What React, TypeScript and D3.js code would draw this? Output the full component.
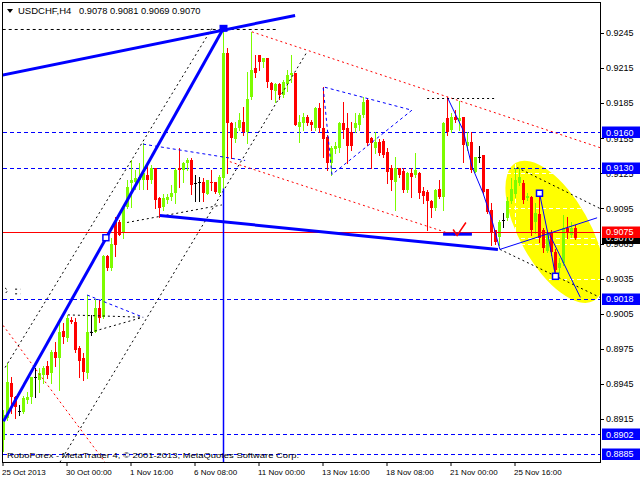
import React from "react";
import * as d3 from "d3";

const OPEN = [0.8897,0.8916,0.8946,0.8934,0.8922,0.8921,0.8931,0.8934,0.8951,0.8948,
0.8953,0.8960,0.8954,0.8972,0.8967,0.8990,0.8984,0.9000,0.8998,0.8976,
0.8967,0.8954,0.8989,0.8989,0.9010,0.9002,0.9054,0.9044,0.9083,0.9083,
0.9074,0.9096,0.9117,0.9118,0.9119,0.9119,0.9124,0.9119,0.9130,0.9104,
0.9096,0.9102,0.9105,0.9108,0.9130,0.9128,0.9134,0.9136,0.9117,0.9118,
0.9118,0.9107,0.9118,0.9118,0.9108,0.9121,0.9228,0.9168,0.9154,0.9164,
0.9169,0.9160,0.9190,0.9215,0.9226,0.9220,0.9224,0.9202,0.9195,0.9201,
0.9192,0.9201,0.9209,0.9211,0.9165,0.9168,0.9173,0.9169,0.9164,0.9181,
0.9164,0.9156,0.9134,0.9146,0.9147,0.9168,0.9164,0.9160,0.9164,0.9166,
0.9175,0.9188,0.9155,0.9147,0.9152,0.9153,0.9143,0.9130,0.9118,0.9130,
0.9127,0.9111,0.9125,0.9124,0.9125,0.9110,0.9109,0.9101,0.9095,0.9112,
0.9105,0.9172,0.9162,0.9173,0.9170,0.9173,0.9148,0.9152,0.9126,0.9139,
0.9141,0.9112,0.9094,0.9077,0.9071,0.9085,0.9087,0.9101,0.9107,0.9117,
0.9117,0.9104,0.9105,0.9083,0.9090,0.9077,0.9059,0.9074,0.9058,0.9044,
0.9048,0.9078,0.9072,0.9078];

const HIGH = [0.8923,0.8963,0.8951,0.8935,0.8927,0.8935,0.8938,0.8951,0.8959,0.8959,
0.8960,0.8965,0.8974,0.8981,0.9000,0.8997,0.9004,0.9002,0.9001,0.8977,
0.8971,0.9021,0.9004,0.9018,0.9017,0.9055,0.9055,0.9070,0.9088,0.9085,
0.9096,0.9119,0.9136,0.9128,0.9134,0.9151,0.9132,0.9132,0.9130,0.9105,
0.9107,0.9107,0.9115,0.9130,0.9147,0.9135,0.9138,0.9138,0.9124,0.9122,
0.9121,0.9119,0.9128,0.9118,0.9124,0.9249,0.9232,0.9169,0.9169,0.9177,
0.9182,0.9212,0.9246,0.9226,0.9226,0.9224,0.9224,0.9203,0.9202,0.9202,
0.9205,0.9213,0.9226,0.9211,0.9175,0.9177,0.9175,0.9171,0.9182,0.9185,
0.9199,0.9158,0.9148,0.9152,0.9169,0.9186,0.9177,0.9169,0.9177,0.9177,
0.9190,0.9189,0.9156,0.9160,0.9154,0.9154,0.9147,0.9132,0.9139,0.9130,
0.9130,0.9126,0.9130,0.9142,0.9126,0.9113,0.9111,0.9102,0.9112,0.9119,
0.9169,0.9190,0.9177,0.9179,0.9187,0.9173,0.9160,0.9160,0.9139,0.9148,
0.9141,0.9112,0.9100,0.9077,0.9085,0.9091,0.9105,0.9121,0.9130,0.9130,
0.9119,0.9108,0.9106,0.9100,0.9108,0.9078,0.9077,0.9077,0.9060,0.9053,
0.9089,0.9088,0.9083,0.9081];

const LOW = [0.8888,0.8914,0.8920,0.8916,0.8918,0.8920,0.8929,0.8929,0.8934,0.8938,
0.8946,0.8950,0.8946,0.8960,0.8940,0.8980,0.8982,0.8997,0.8972,0.8951,
0.8948,0.8950,0.8987,0.8989,0.8998,0.9001,0.9042,0.9042,0.9054,0.9072,
0.9070,0.9095,0.9096,0.9112,0.9112,0.9112,0.9112,0.9117,0.9095,0.9088,
0.9094,0.9100,0.9102,0.9100,0.9113,0.9118,0.9128,0.9107,0.9101,0.9101,
0.9101,0.9107,0.9111,0.9108,0.9107,0.9112,0.9125,0.9138,0.9152,0.9162,
0.9158,0.9151,0.9189,0.9207,0.9213,0.9216,0.9199,0.9189,0.9186,0.9189,
0.9190,0.9195,0.9203,0.9166,0.9152,0.9162,0.9166,0.9162,0.9162,0.9160,
0.9139,0.9128,0.9124,0.9142,0.9143,0.9155,0.9134,0.9145,0.9160,0.9162,
0.9173,0.9149,0.9130,0.9142,0.9141,0.9139,0.9117,0.9111,0.9094,0.9122,
0.9109,0.9109,0.9105,0.9122,0.9104,0.9100,0.9077,0.9088,0.9094,0.9104,
0.9094,0.9158,0.9160,0.9169,0.9162,0.9135,0.9145,0.9126,0.9126,0.9135,
0.9108,0.9091,0.9064,0.9065,0.9064,0.9079,0.9085,0.9100,0.9105,0.9115,
0.9100,0.9102,0.9072,0.9074,0.9066,0.9058,0.9058,0.9055,0.9038,0.9041,
0.9047,0.9070,0.9071,0.9069];

const CLOSE = [0.8918,0.8947,0.8934,0.8925,0.8922,0.8933,0.8934,0.8951,0.8951,0.8954,
0.8959,0.8953,0.8972,0.8967,0.8989,0.8985,0.9001,0.8998,0.8974,0.8965,
0.8955,0.8989,0.8989,0.9010,0.9001,0.9054,0.9044,0.9065,0.9064,0.9072,
0.9095,0.9113,0.9119,0.9121,0.9122,0.9125,0.9119,0.9130,0.9102,0.9095,
0.9104,0.9105,0.9108,0.9128,0.9128,0.9134,0.9136,0.9115,0.9117,0.9118,
0.9108,0.9119,0.9117,0.9109,0.9122,0.9228,0.9168,0.9155,0.9164,0.9171,
0.9160,0.9189,0.9213,0.9211,0.9220,0.9224,0.9203,0.9196,0.9201,0.9192,
0.9203,0.9209,0.9211,0.9166,0.9169,0.9173,0.9168,0.9166,0.9181,0.9164,
0.9154,0.9134,0.9147,0.9148,0.9168,0.9162,0.9148,0.9148,0.9168,0.9175,
0.9186,0.9151,0.9151,0.9152,0.9142,0.9141,0.9126,0.9119,0.9130,0.9124,
0.9111,0.9125,0.9122,0.9128,0.9108,0.9106,0.9101,0.9095,0.9111,0.9105,
0.9168,0.9160,0.9173,0.9171,0.9172,0.9149,0.9152,0.9128,0.9139,0.9139,
0.9109,0.9092,0.9075,0.9066,0.9083,0.9085,0.9101,0.9112,0.9119,0.9122,
0.9102,0.9106,0.9077,0.9091,0.9070,0.9061,0.9074,0.9058,0.9042,0.9048,
0.9078,0.9074,0.9078,0.9070];

const PRICE_TICKS = [0.9245, 0.9215, 0.9185, 0.9155, 0.9125, 0.9095, 0.9065, 0.9035, 0.9005, 0.8975, 0.8945, 0.8915];
const TIME_TICK_BARS = [0, 16, 32, 48, 64, 80, 96, 112, 128];
const TIME_TICK_LABELS = ["25 Oct 2013", "30 Oct 00:00", "1 Nov 16:00", "6 Nov 08:00", "11 Nov 00:00", "13 Nov 16:00", "18 Nov 08:00", "21 Nov 00:00", "25 Nov 16:00"];

const BLUE_LEVELS = [0.9160, 0.9130, 0.9018, 0.8902, 0.8885];
const RED_LEVEL = 0.9075;
const BID = 0.9070;
const HEADER_SYMBOL = "USDCHF,H4";
const HEADER_OHLC = "0.9078 0.9081 0.9069 0.9070";
const COPYRIGHT = "RoboForex - MetaTrader 4, \u00A9 2001-2013, MetaQuotes Software Corp.";

// annotation anchors: [bar index, price]
const THICK_LINES = [
  [[-0.2, 0.9209], [72.9, 0.9260]],
  [[0, 0.8913], [55, 0.9249]],
  [[39.1, 0.9089], [123.6, 0.9060]],
  [[109.9, 0.9073], [117.1, 0.9073]],
];
const THIN_BLUE = [
  [[111.1, 0.9189], [114.9, 0.9162], [117.1, 0.9131], [119.9, 0.9108], [122.1, 0.9085], [124.1, 0.9060]],
  [[124.1, 0.9060], [148.4, 0.9087]],
  [[134, 0.9108], [136, 0.9075], [138, 0.9037]],
  [[136.5, 0.9073], [144.2, 0.9019]],
];
const BLUE_DASHED = [
  [[82.1, 0.9124], [79.9, 0.9199], [102.1, 0.9179], [82.1, 0.9124]],
  [[34.9, 0.9150], [60.4, 0.9136]],
  [[20.9, 0.9021], [34.9, 0.9002]],
];
const BLACK_DOTTED = [
  [[0.4, 0.8959], [52.1, 0.9249]],
  [[14.1, 0.8878], [75.9, 0.9229]],
  [[30.9, 0.9083], [54.6, 0.9098]],
  [[105.9, 0.9189], [122.9, 0.9189]],
  [[128.4, 0.9130], [149.1, 0.9095]],
  [[124.1, 0.9060], [149.1, 0.9019]],
  [[16.1, 0.9004], [34.9, 0.9002]],
  [[21.6, 0.8989], [34.9, 0.9002]],
  [[0.4, 0.9027], [1.1, 0.9025], [0.4, 0.9022]],
  [[2.9, 0.9026], [4.2, 0.9026]],
  [[2.9, 0.9022], [4.2, 0.9022]],
];
const BLACK_TOP = [[-0.2, 0.9248], [68.4, 0.9248]];
const RED_DOTTED = [
  [[62.1, 0.9246], [149.1, 0.9147]],
  [[56.6, 0.9135], [112.9, 0.9072]],
  [[-0.1, 0.8995], [25.4, 0.8878]],
];
const VERTICAL = [[55, 0.9112], [55, 0.8870]];
const FILLED_SQUARES = [[55, 0.9249]];
const HOLLOW_SQUARES = [[25.6, 0.9070], [134, 0.9108], [138, 0.9037]];
const CHECK_MARK = [[112.4, 0.9077], [113.4, 0.9072], [115.6, 0.9083]];
const ELLIPSE_AXIS = [[128.1, 0.9134], [147.6, 0.9016]];

const BULL = "#7CFC00";
const BEAR = "#FF0000";
const DOJI = "#000000";
const BLUE = "#0000FF";
const FONT = "'Liberation Sans', Arial, sans-serif";

export default function App() {
  const x = d3.scaleLinear().domain([0, 143]).range([3.5, 575.5]);
  const y = d3.scaleLinear().domain([0.9245, 0.8915]).range([33, 419]);
  const line = d3.line<number[]>().x((d) => x(d[0])).y((d) => y(d[1]));

  const L = 3, T = 3, R = 600, B = 462;

  // ellipse geometry from axis endpoints
  const ex1 = x(ELLIPSE_AXIS[0][0]), ey1 = y(ELLIPSE_AXIS[0][1]);
  const ex2 = x(ELLIPSE_AXIS[1][0]), ey2 = y(ELLIPSE_AXIS[1][1]);
  const ecx = (ex1 + ex2) / 2, ecy = (ey1 + ey2) / 2;
  const ea = Math.hypot(ex2 - ex1, ey2 - ey1) / 2;
  const eang = (Math.atan2(ey2 - ey1, ex2 - ex1) * 180) / Math.PI;
  const eb = 35;

  const boxes = [
    ...BLUE_LEVELS.map((p) => ({ p, bg: BLUE })),
    { p: BID, bg: "#000000" },
    { p: RED_LEVEL, bg: "#FF0000" },
  ];

  return (
    <svg
      width={640}
      height={480}
      style={{ position: "fixed", left: 0, top: 0, background: "#fff" }}
      fontFamily={FONT}
    >
      <defs>
        <clipPath id="plot">
          <rect x={L} y={T} width={R - L} height={B - T} />
        </clipPath>
      </defs>
      <rect x={0} y={0} width={640} height={480} fill="#fff" />

      <g clipPath="url(#plot)">
        {/* background ellipse */}
        <ellipse cx={ecx} cy={ecy} rx={ea} ry={eb} transform={`rotate(${eang} ${ecx} ${ecy})`} fill="#FFFF00" />
        {/* white grid (visible only on yellow) */}
        {PRICE_TICKS.map((p) => (
          <line key={"g" + p} x1={L} x2={R} y1={Math.round(y(p)) + 0.5} y2={Math.round(y(p)) + 0.5} stroke="#fff" strokeDasharray="4,3" />
        ))}
        <line x1={L} x2={R} y1={Math.round(y(BID)) + 0.5} y2={Math.round(y(BID)) + 0.5} stroke="#fff" strokeDasharray="4,3" />
        {TIME_TICK_BARS.map((b) => (
          <line key={"gv" + b} x1={x(b)} x2={x(b)} y1={T} y2={B} stroke="#fff" strokeDasharray="4,3" />
        ))}

        {/* horizontal levels */}
        {BLUE_LEVELS.map((p) => (
          <line key={"bl" + p} x1={L} x2={R} y1={Math.round(y(p)) + 0.5} y2={Math.round(y(p)) + 0.5} stroke={BLUE} strokeDasharray="4,3" />
        ))}

        {/* candles */}
        {OPEN.map((o, i) => {
          const c = CLOSE[i];
          const cx = x(i);
          const color = c > o ? BULL : c < o ? BEAR : DOJI;
          const yo = Math.round(y(o));
          const yc = Math.round(y(c));
          const top = Math.min(yo, yc);
          const bot = Math.max(yo, yc);
          return (
            <g key={i}>
              <line x1={cx} x2={cx} y1={Math.round(y(HIGH[i]))} y2={Math.round(y(LOW[i])) + 1} stroke={color} strokeWidth={1} />
              <rect x={cx - 1.5} y={top} width={3} height={Math.max(1, bot - top)} fill={color} />
            </g>
          );
        })}

        <line x1={L} x2={R} y1={Math.round(y(RED_LEVEL)) + 0.5} y2={Math.round(y(RED_LEVEL)) + 0.5} stroke="#FF0000" strokeWidth={1} />

        {RED_DOTTED.map((pts, k) => (
          <path key={"rd" + k} d={line(pts) || ""} fill="none" stroke="#FF0000" strokeWidth={1} strokeDasharray="2,3" />
        ))}
        {BLACK_DOTTED.map((pts, k) => (
          <path key={"kd" + k} d={line(pts) || ""} fill="none" stroke="#000" strokeWidth={1} strokeDasharray="2,3" />
        ))}
        <path d={line(BLACK_TOP) || ""} fill="none" stroke="#000" strokeWidth={1} strokeDasharray="3,3" />
        {BLUE_DASHED.map((pts, k) => (
          <path key={"bd" + k} d={line(pts) || ""} fill="none" stroke={BLUE} strokeWidth={1} strokeDasharray="3,3" />
        ))}
        {THIN_BLUE.map((pts, k) => (
          <path key={"tb" + k} d={line(pts) || ""} fill="none" stroke={BLUE} strokeWidth={1} />
        ))}
        <path d={line(VERTICAL) || ""} fill="none" stroke={BLUE} strokeWidth={1.5} />
        {THICK_LINES.map((pts, k) => (
          <path key={"th" + k} d={line(pts) || ""} fill="none" stroke={BLUE} strokeWidth={3} />
        ))}
        {FILLED_SQUARES.map((p, k) => (
          <rect key={"fs" + k} x={x(p[0]) - 4} y={y(p[1]) - 3.5} width={8} height={7} fill={BLUE} />
        ))}
        {HOLLOW_SQUARES.map((p, k) => (
          <rect key={"hs" + k} x={x(p[0]) - 3} y={y(p[1]) - 3} width={6} height={6} fill="#fff" stroke={BLUE} strokeWidth={1.5} />
        ))}
        <path d={line(CHECK_MARK) || ""} fill="none" stroke="#FF0000" strokeWidth={1.5} />

        <text x={7} y={457.5} fontSize={8} fill="#000" textLength={292} lengthAdjust="spacingAndGlyphs">
          {COPYRIGHT}
        </text>
      </g>

      {/* frame */}
      <rect x={2.5} y={2.5} width={598} height={460} fill="none" stroke="#000" strokeWidth={1} />

      {/* header */}
      <polygon points="7,9 13,9 10,13" fill="#000" />
      <text x={18} y={13.5} fontSize={9.5} fill="#000">{HEADER_SYMBOL}</text>
      <text x={79} y={13.5} fontSize={9.3} fill="#000">{HEADER_OHLC}</text>

      {/* price axis */}
      {PRICE_TICKS.map((p) => (
        <g key={"pt" + p}>
          <line x1={600} x2={604} y1={Math.round(y(p)) + 0.5} y2={Math.round(y(p)) + 0.5} stroke="#000" />
          <text x={606} y={y(p) + 3.3} fontSize={9} fill="#000">{p.toFixed(4)}</text>
        </g>
      ))}
      {boxes.map((b) => (
        <g key={"bx" + b.p}>
          <rect x={602} y={Math.round(y(b.p)) - 5.5} width={38} height={11.5} fill={b.bg} />
          <text x={606} y={y(b.p) + 3.3} fontSize={9} fill="#fff">{b.p.toFixed(4)}</text>
        </g>
      ))}

      {/* time axis */}
      {TIME_TICK_BARS.map((b, k) => (
        <g key={"tt" + b}>
          <line x1={x(b) - 0.5} x2={x(b) - 0.5} y1={462} y2={466} stroke="#000" />
          <text x={x(b) - 1.5} y={475} fontSize={8} fill="#000">{TIME_TICK_LABELS[k]}</text>
        </g>
      ))}
    </svg>
  );
}
